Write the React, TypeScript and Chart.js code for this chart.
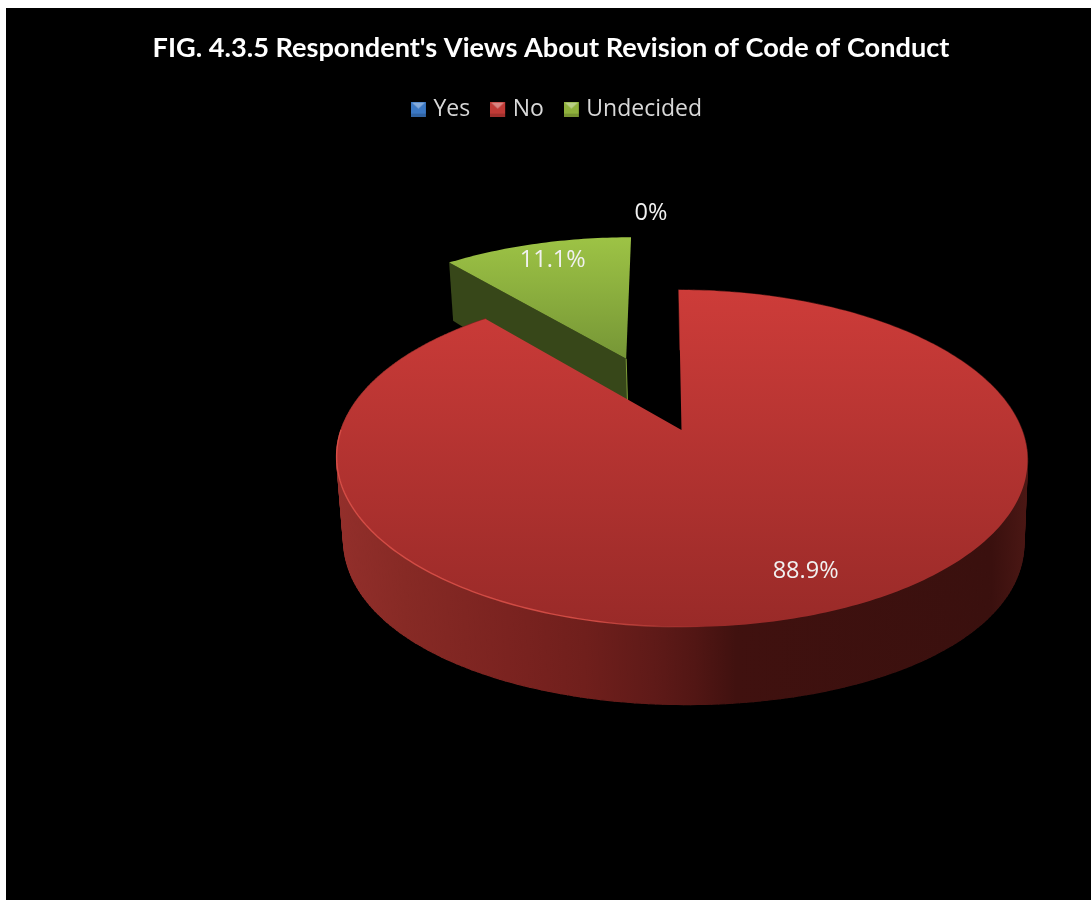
import React, { useEffect, useRef } from "react";
import { Chart, registerables } from "chart.js";

Chart.register(...registerables);

const TITLE = "FIG. 4.3.5 Respondent's Views About Revision of Code of Conduct";
const categories = ["Yes", "No", "Undecided"];
const shares = [0, 88.9, 11.1];
const valueLabels = ["0%", "88.9%", "11.1%"];
// How far each slice is pulled out, as a fraction of the pie radius.
const explode = [0, 0, 0.5];

const legendColors = ["#3b78c4", "#c03a36", "#8fb13c"];
// Top-face gradient and cut-wall colours for each slice.
const faceTop = ["#4a86cf", "#cd3c39", "#9dc345"];
const faceBottom = ["#3565a5", "#992a28", "#769636"];
const cutWall = ["#1f3c63", "#4a1412", "#374719"];
const labelPlacement = [
  { radius: 1.73, turn: -3.3 },
  { radius: 0.805, turn: -2.8 },
  { radius: 0.85, turn: 1 },
];

// Perspective of the tilted disc: centre, axes, foreshortening, skew, thickness.
const view = { cx: 675.5, cy: 422, a: 340.5, b: 163.7, k: 0.169, skew: 0.02, drop: 68.6, bulge: 14, recede: 0.015 };

type P = [number, number];

function project(u: number, v: number, depth: number): P {
  const w = 1 - view.k * v + view.recede * depth;
  // The lower rim hangs a little further at the sides of the disc.
  const side = view.bulge * Math.max(0, 1 - v * v);
  const y = (view.b * v + (view.drop + side) * depth) / w;
  const x = (view.a * u) / w + view.skew * y;
  return [view.cx + x, view.cy + y];
}

function rimPoints(start: number, end: number, off: P, depth: number): P[] {
  const n = Math.max(2, Math.ceil(((end - start) * 180) / Math.PI));
  const out: P[] = [];
  for (let i = 0; i <= n; i++) {
    const t = start + ((end - start) * i) / n;
    out.push(project(off[0] + Math.sin(t), off[1] - Math.cos(t), depth));
  }
  return out;
}

function tracePolygon(ctx: CanvasRenderingContext2D, pts: P[]) {
  ctx.beginPath();
  pts.forEach(([x, y], i) => (i ? ctx.lineTo(x, y) : ctx.moveTo(x, y)));
  ctx.closePath();
}

function wallGradient(ctx: CanvasRenderingContext2D) {
  const g = ctx.createLinearGradient(330, 0, 1020, 0);
  g.addColorStop(0, "#932f2b");
  g.addColorStop(0.1, "#872a25");
  g.addColorStop(0.25, "#7b2320");
  g.addColorStop(0.36, "#701f1c");
  g.addColorStop(0.46, "#5f1a18");
  g.addColorStop(0.52, "#521614");
  g.addColorStop(0.58, "#40110f");
  g.addColorStop(0.95, "#3a100e");
  g.addColorStop(1, "#4a1714");
  return g;
}

const piePlugin = {
  id: "tiltedPie",
  afterLayout(chart: any) {
    // The title and legend rows sit slightly right of the canvas centre.
    chart.titleBlock.left += 2.5;
    chart.titleBlock.right += 2.5;
    chart.legend.left += 11;
    chart.legend.right += 11;
  },
  beforeDatasetsDraw(chart: any) {
    const ctx: CanvasRenderingContext2D = chart.ctx;
    const arcs = chart.getDatasetMeta(0).data;
    const order = arcs.map((_: any, i: number) => i).sort((p: number, q: number) => explode[q] - explode[p]);

    for (const i of order) {
      const arc = arcs[i];
      const start = arc.startAngle + Math.PI / 2;
      const end = arc.endAngle + Math.PI / 2;
      if (end - start < 1e-6) continue;
      const mid = (start + end) / 2;
      const off: P = [Math.sin(mid) * explode[i], -Math.cos(mid) * explode[i]];
      const top = rimPoints(start, end, off, 0);
      const bottom = rimPoints(start, end, off, 1);
      const apex = project(off[0], off[1], 0);
      const apexLow = project(off[0], off[1], 1);

      ctx.save();
      if (explode[i] > 0) {
        // Cut face of a slice pulled away from the pie, with a lit vertical seam.
        tracePolygon(ctx, [apex, top[0], bottom[0], apexLow]);
        ctx.fillStyle = cutWall[i];
        ctx.fill();
        ctx.beginPath();
        ctx.moveTo(apex[0], apex[1]);
        ctx.lineTo(apexLow[0], apexLow[1]);
        ctx.strokeStyle = "#7f9e38";
        ctx.lineWidth = 1;
        ctx.stroke();
      } else {
        // Outer wall built from one quad per degree, so the fold at the sides stays filled.
        const wall = wallGradient(ctx);
        ctx.fillStyle = wall;
        ctx.strokeStyle = wall;
        ctx.lineWidth = 1.2;
        ctx.lineJoin = "round";
        for (let n = 0; n < top.length - 1; n++) {
          tracePolygon(ctx, [top[n], top[n + 1], bottom[n + 1], bottom[n]]);
          ctx.fill();
          ctx.stroke();
        }
      }

      const ys = [...top, apex].map((p) => p[1]);
      const g = ctx.createLinearGradient(0, Math.min(...ys), 0, Math.max(...ys));
      g.addColorStop(0, faceTop[i]);
      g.addColorStop(1, faceBottom[i]);
      tracePolygon(ctx, [apex, ...top]);
      ctx.fillStyle = g;
      ctx.fill();

      if (explode[i] === 0) {
        // Thin lit bevel along the front-left rim, fading out towards the front.
        const lit = rimPoints(Math.PI * 0.98, Math.PI * 1.5, off, 0);
        const fade = ctx.createLinearGradient(590, 0, 700, 0);
        fade.addColorStop(0, "rgba(226,84,76,0.8)");
        fade.addColorStop(1, "rgba(226,84,76,0)");
        ctx.beginPath();
        lit.forEach(([x, y], n) => (n ? ctx.lineTo(x, y) : ctx.moveTo(x, y)));
        ctx.strokeStyle = fade;
        ctx.lineWidth = 1.4;
        ctx.stroke();
      }
      ctx.restore();
    }
    return false;
  },
  afterDraw(chart: any) {
    const ctx: CanvasRenderingContext2D = chart.ctx;
    const arcs = chart.getDatasetMeta(0).data;
    ctx.save();
    ctx.font = "23.5px 'Open Sans'";
    ctx.fillStyle = "#f1f1f1";
    ctx.textAlign = "center";
    ctx.textBaseline = "middle";
    arcs.forEach((arc: any, i: number) => {
      const mid = (arc.startAngle + arc.endAngle) / 2 + Math.PI / 2;
      const t = mid + (labelPlacement[i].turn * Math.PI) / 180;
      const r = labelPlacement[i].radius;
      const [x, y] = project(
        Math.sin(mid) * explode[i] + Math.sin(t) * r,
        -Math.cos(mid) * explode[i] - Math.cos(t) * r,
        0,
      );
      ctx.fillText(valueLabels[i], x, y + 2);
    });
    ctx.restore();
  },
};

// Small bevelled legend key with a lighter wedge along its top edge.
function legendKey(color: string) {
  const c = document.createElement("canvas");
  c.width = 17;
  c.height = 15;
  const g = c.getContext("2d")!;
  g.fillStyle = color;
  g.fillRect(0, 0, 15, 15);
  g.fillStyle = "rgba(255,255,255,0.38)";
  g.beginPath();
  g.moveTo(1, 1);
  g.lineTo(14, 1);
  g.lineTo(7.5, 7);
  g.closePath();
  g.fill();
  g.fillStyle = "rgba(0,0,0,0.16)";
  g.fillRect(0, 12, 15, 3);
  return c;
}

export default function App() {
  const ref = useRef<HTMLCanvasElement>(null);

  useEffect(() => {
    const chart = new Chart(ref.current!, {
      type: "pie",
      data: {
        labels: categories,
        datasets: [{ data: shares, backgroundColor: legendColors, borderWidth: 0 }],
      },
      options: {
        animation: false,
        responsive: false,
        plugins: {
          tooltip: { enabled: false },
          title: {
            display: true,
            text: TITLE,
            color: "#ffffff",
            font: { family: "Lato", size: 27.15, weight: "bold" },
            padding: { top: 24, bottom: 7 },
          },
          legend: {
            position: "top",
            labels: {
              color: "#d9d9d9",
              font: { family: "'Open Sans'", size: 23 },
              usePointStyle: true,
              pointStyleWidth: 5,
              boxHeight: 13,
              padding: 26,
              generateLabels: () =>
                categories.map((text, i) => ({
                  text,
                  fontColor: "#d9d9d9",
                  pointStyle: legendKey(legendColors[i]),
                  datasetIndex: 0,
                  index: i,
                  hidden: false,
                  lineWidth: 0,
                })),
            },
          },
        },
      } as any,
      plugins: [piePlugin],
    });
    return () => chart.destroy();
  }, []);

  return (
    <div style={{ position: "absolute", left: 6, top: 8, width: 1085, height: 892, background: "#000" }}>
      <canvas ref={ref} width={1085} height={892} style={{ display: "block" }} />
    </div>
  );
}
